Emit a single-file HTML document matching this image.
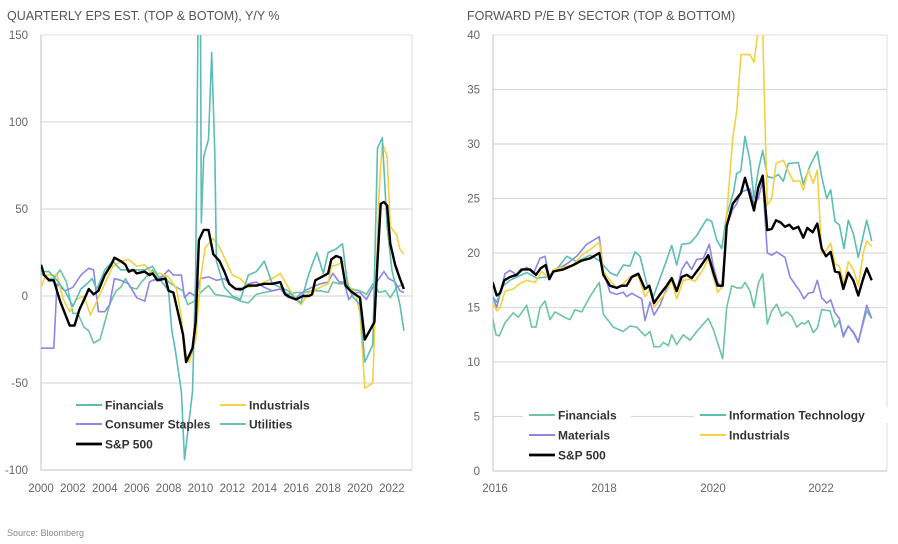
<!DOCTYPE html>
<html><head><meta charset="utf-8"><style>
body{margin:0;background:#fff;}
svg{display:block;font-family:"Liberation Sans",sans-serif;}
</style></head><body>
<svg id="s" width="898" height="544" xmlns="http://www.w3.org/2000/svg">
<defs>
<clipPath id="cl"><rect x="41" y="35" width="371" height="435"/></clipPath>
<clipPath id="cr"><rect x="493" y="35" width="394" height="436"/></clipPath>
</defs>
<text x="7" y="20" font-size="12.5" fill="#555">QUARTERLY EPS EST. (TOP &amp; BOTOM), Y/Y %</text>
<text x="467" y="20" font-size="12.5" fill="#555">FORWARD P/E BY SECTOR (TOP &amp; BOTTOM)</text>
<text x="7" y="536" font-size="9" fill="#888">Source: Bloomberg</text>
<g id="g"></g>
</svg>
<script>
const g=document.getElementById('g');let h='';
function line(x1,y1,x2,y2,c,w){h+=`<line x1="${x1}" y1="${y1}" x2="${x2}" y2="${y2}" stroke="${c}" stroke-width="${w}"/>`;}
function txt(x,y,t,a,s,c,b){h+=`<text x="${x}" y="${y}" font-size="${s}" fill="${c}" text-anchor="${a}" ${b?'font-weight="bold"':''}>${t}</text>`;}
[[150,35],[100,122],[50,209],[0,296],[-50,383],[-100,470]].forEach(([v,y])=>{ if(v!=150&&v!=-100)line(41,y,412,y,'#d9d9d9',1.2); txt(28,y+4,v,'end',11.5,'#666');});
line(41,35,412,35,'#ddd',1);line(412,35,412,470,'#ddd',1);line(41,470,412,470,'#ccc',1.2);line(41,35,41,470,'#ccc',1.2);
for(let yr=2000;yr<=2022;yr+=2){txt(41+(yr-2000)*15.95,492,yr,'middle',11.5,'#666');}
for(let v=0;v<=40;v+=5){const y=471-v*10.9; if(v>0&&v<40)line(493,y,887,y,'#d9d9d9',1.2); txt(480,y+4,v,'end',11.5,'#666');}
line(493,35,887,35,'#ddd',1);line(887,35,887,471,'#ddd',1);line(493,471,887,471,'#ccc',1.2);line(493,35,493,471,'#ccc',1.2);
[[2016,493],[2018,602],[2020,711],[2022,819]].forEach(([t,x])=>txt(x+2,492,t,'middle',11.5,'#666'));
function L(pts,c,w){const p=pts.map(([yr,v])=>`${(41+(yr-2000)*15.95).toFixed(1)},${(296-v*1.74).toFixed(1)}`).join(' ');h+=`<polyline points="${p}" fill="none" stroke="${c}" stroke-width="${w}" stroke-linejoin="round" clip-path="url(#cl)"/>`;}
function R(pts,c,w){const p=pts.map(([zx,v])=>`${(450+zx/3).toFixed(1)},${(471-v*10.9).toFixed(1)}`).join(' ');h+=`<polyline points="${p}" fill="none" stroke="${c}" stroke-width="${w}" stroke-linejoin="round" clip-path="url(#cr)"/>`;}
const TEAL='#5bbdb5',GRN='#6cc4a0',YEL='#f5d142',PUR='#8a87e6';
function leg(x,y,c,w,t,bg){if(bg)h+=`<rect x="${x-6}" y="${y-8}" width="${t.length*7.2+36}" height="16" fill="#fff"/>`;line(x,y,x+26,y,c,w);txt(x+29,y+4.5,t,'start',12,'#333',1);}
// right legend backgrounds drawn before series? reference: legend over gridline only
L([[2000,13],[2000.4,10],[2000.8,10],[2001.2,15],[2001.6,8],[2002,-10],[2002.3,-10],[2002.7,-18],[2003,-20],[2003.3,-27],[2003.7,-25],[2004,-15],[2004.3,-5],[2004.7,3],[2005,5],[2005.3,10],[2005.6,5],[2006,4],[2006.3,8],[2006.7,12],[2007,15],[2007.3,10],[2007.7,12],[2008,8],[2008.5,5],[2008.9,3],[2009.2,-5],[2009.6,-3],[2010,2],[2010.5,6],[2010.9,1],[2011.5,0],[2012,-1],[2012.5,-3],[2013,-4],[2013.5,1],[2014,2],[2014.5,3],[2015,4],[2015.5,1],[2016,2],[2016.5,2],[2017,3],[2017.5,3],[2018,2],[2018.3,8],[2018.7,7],[2019,7],[2019.5,4],[2020,3],[2020.4,1],[2020.8,7],[2021.2,2],[2021.6,3],[2021.9,-1],[2022.3,5],[2022.75,7]],GRN,1.6);
L([[2000,-30],[2000.2,-30],[2000.8,-30],[2001,7],[2001.5,3],[2002,5],[2002.5,12],[2003,16],[2003.3,15],[2003.6,-9],[2004,-9],[2004.3,-5],[2004.6,10],[2005,9],[2005.5,7],[2006,-1],[2006.5,-3],[2006.8,8],[2007,9],[2007.5,10],[2008,15],[2008.3,12],[2008.8,12],[2009,-1],[2009.3,2],[2009.7,0],[2010,10],[2010.5,11],[2011,9],[2011.5,10],[2012,5],[2012.5,3],[2013,7],[2013.5,8],[2014,5],[2014.5,3],[2015,4],[2015.5,-1],[2016,-1],[2016.5,3],[2017,5],[2017.5,7],[2018,8],[2018.3,13],[2018.7,8],[2019,8],[2019.3,-2],[2019.7,2],[2020,2],[2020.4,-2],[2020.8,5],[2021.2,10],[2021.5,14],[2021.8,10],[2022.2,8],[2022.5,3],[2022.75,2]],PUR,1.6);
L([[2000,5],[2000.3,12],[2000.6,12],[2001,12],[2001.4,-2],[2001.8,-9],[2002.2,-2],[2002.7,0],[2003.1,-11],[2003.4,-5],[2004,7],[2004.5,17],[2005,20],[2005.5,21],[2006,17],[2006.5,18],[2007,13],[2007.5,13],[2008,11],[2008.5,4],[2008.8,-12],[2009,-35],[2009.3,-38],[2009.7,-25],[2010,10],[2010.3,28],[2010.8,33],[2011.2,28],[2011.6,20],[2012,12],[2012.5,10],[2013,5],[2013.5,6],[2014,8],[2014.5,10],[2015,13],[2015.5,5],[2016,-2],[2016.3,-5],[2016.8,2],[2017.5,5],[2018,7],[2018.2,17],[2018.6,18],[2019,20],[2019.3,5],[2019.7,2],[2020,-10],[2020.3,-53],[2020.8,-50],[2021.2,60],[2021.4,88],[2021.7,80],[2021.9,40],[2022.3,35],[2022.5,27],[2022.75,24]],YEL,1.6);
L([[2000,14],[2000.5,14],[2001,9],[2001.5,3],[2002,-6],[2002.5,4],[2003,8],[2003.2,10],[2003.5,4],[2004,15],[2004.5,20],[2005,15],[2005.5,15],[2006,15],[2006.5,15],[2007,17],[2007.5,9],[2008,3],[2008.2,-20],[2008.4,-30],[2008.8,-55],[2009,-94],[2009.5,-55],[2009.7,15],[2009.85,160],[2010,160],[2010.05,42],[2010.2,80],[2010.5,90],[2010.7,140],[2010.9,80],[2011,20],[2011.5,5],[2012,0],[2012.5,-2],[2013,12],[2013.5,14],[2014,20],[2014.5,7],[2015,5],[2015.5,3],[2016,-2],[2016.3,-4],[2016.7,10],[2017,18],[2017.3,25],[2017.7,13],[2018,25],[2018.5,27],[2018.9,30],[2019.2,8],[2019.5,0],[2020,-5],[2020.3,-38],[2020.8,-28],[2021.1,85],[2021.4,91],[2021.7,40],[2022,15],[2022.5,-5],[2022.75,-20]],TEAL,1.6);
L([[2000,18],[2000.2,12],[2000.5,9],[2000.8,9],[2001.2,-3],[2001.5,-10],[2001.8,-17],[2002.1,-17],[2002.4,-8],[2002.7,-2],[2003,4],[2003.3,1],[2003.6,3],[2004,12],[2004.4,18],[2004.6,22],[2005,20],[2005.3,18],[2005.5,14],[2005.8,15],[2006,13],[2006.5,14],[2006.8,12],[2007,13],[2007.3,9],[2007.8,10],[2008,3],[2008.3,2],[2008.6,-10],[2008.9,-22],[2009.1,-38],[2009.5,-30],[2009.7,-15],[2009.9,32],[2010.2,38],[2010.5,38],[2010.8,24],[2011.2,20],[2011.5,14],[2011.8,7],[2012.2,4],[2012.6,4],[2013,6],[2013.5,6],[2014,7],[2014.5,7],[2015,8],[2015.3,1],[2015.7,-1],[2016,-2],[2016.4,0],[2016.8,0],[2017,1],[2017.2,9],[2017.6,11],[2018,13],[2018.2,21],[2018.5,23],[2018.8,22],[2019.1,6],[2019.4,3],[2019.7,1],[2020,-1],[2020.3,-25],[2020.6,-20],[2020.9,-15],[2021.1,20],[2021.3,53],[2021.5,54],[2021.7,52],[2021.9,30],[2022.2,18],[2022.5,10],[2022.75,4]],'#000',2.4);
R([[128,14],[138,12.5],[148,12.4],[165,13.6],[190,14.5],[205,14.1],[230,15.2],[245,13.2],[258,13.2],[270,15.0],[285,15.6],[300,13.9],[315,14.6],[350,14.0],[360,13.9],[375,14.8],[395,14.6],[420,16.0],[448,17.3],[460,14.4],[490,13.2],[520,12.8],[540,13.3],[560,13.2],[585,12.4],[600,12.8],[612,11.4],[630,11.4],[640,11.8],[655,11.5],[665,12.5],[680,11.6],[700,12.5],[720,12.0],[740,12.8],[775,14.0],[790,13.0],[818,10.3],[830,15.0],[845,17.0],[860,16.8],[875,16.8],[885,17.3],[900,16.5],[912,15.0],[925,17.2],[938,18.1],[952,13.5],[965,14.7],[980,15.3],[995,14.2],[1010,14.6],[1025,14.2],[1040,13.2],[1055,13.6],[1065,13.5],[1075,13.8],[1090,12.7],[1102,13.1],[1115,14.8],[1140,14.7],[1155,13.2],[1168,13.8],[1180,12.5],[1195,13.3],[1210,12.8],[1225,11.9],[1250,14.7],[1265,14.0]],GRN,1.6);
R([[128,16],[140,15],[165,18.1],[180,18.4],[200,18.0],[230,18.7],[250,18.1],[270,19.5],[285,19.7],[298,17.8],[320,18.5],[350,19.0],[380,19.7],[410,20.8],[448,21.5],[460,18.3],[480,16.4],[500,16.2],[520,16.4],[530,16.0],[545,16.3],[575,15.8],[585,13.8],[600,15.5],[612,14.3],[630,15.2],[650,16.8],[665,17.5],[680,16.5],[695,18.5],[710,19.2],[725,18.5],[740,19.4],[760,19.5],[778,20.8],[790,18.8],[803,17.3],[815,16.8],[830,22.4],[848,24.0],[860,24.5],[873,25.6],[900,25.9],[912,24.5],[925,25.0],[938,26.6],[952,20.0],[965,19.8],[980,20.1],[1005,19.6],[1020,17.8],[1040,16.9],[1048,16.6],[1062,15.8],[1075,16.3],[1090,16.4],[1102,17.5],[1115,15.9],[1130,15.4],[1142,15.7],[1155,14.5],[1168,14.0],[1180,12.3],[1195,13.3],[1210,12.7],[1225,11.8],[1250,15.2],[1265,14.0]],PUR,1.6);
R([[128,16],[140,15.5],[160,17],[180,17.5],[200,17.8],[230,18.2],[260,17.7],[290,17.8],[320,18.5],[350,19.7],[380,19.2],[420,19.8],[448,19.3],[480,18.2],[500,17.9],[520,18.9],[540,18.8],[555,20.1],[570,19.7],[590,17.2],[610,16.0],[640,18.5],[665,20.7],[680,18.9],[695,20.8],[720,20.9],[740,21.6],[770,23.1],[785,22.9],[800,21.2],[815,20.4],[830,23.5],[850,25.5],[860,27.3],[872,27.5],[885,30.7],[900,28.4],[912,25.0],[925,27.6],[938,29.4],[952,27.0],[970,26.9],[985,27.2],[1000,26.6],[1015,28.2],[1045,28.3],[1060,26.3],[1080,28.0],[1102,29.3],[1115,27.0],[1130,25.0],[1142,25.8],[1155,22.9],[1168,22.6],[1182,20.4],[1195,23.0],[1210,21.8],[1225,19.6],[1250,23.0],[1265,21.1]],TEAL,1.6);
R([[128,15.5],[140,14.7],[150,15.0],[165,16.5],[190,16.7],[210,17.2],[230,17.5],[255,17.3],[275,18.3],[298,17.7],[310,18.5],[340,18.7],[370,18.9],[395,19.8],[420,20.3],[448,21.0],[460,18.3],[480,17.5],[500,16.8],[520,17.2],[540,17.8],[565,17.9],[585,16.0],[600,16.7],[612,15.0],[630,15.7],[650,16.5],[665,17.5],[680,15.8],[700,17.5],[720,17.6],[735,17.4],[760,18.5],[775,19.5],[790,17.8],[803,16.4],[818,17.0],[830,23.5],[848,30.5],[860,33.0],[873,38.2],[900,38.2],[912,37.5],[925,40.5],[938,40.5],[945,32],[952,24.4],[965,25.0],[978,28.2],[1000,28.5],[1015,27.5],[1030,26.6],[1050,26.6],[1060,25.8],[1075,27.6],[1090,26.4],[1102,27.6],[1115,20.0],[1128,20.2],[1142,20.9],[1155,19.0],[1168,18.8],[1182,17.2],[1195,19.2],[1210,18.5],[1225,17.0],[1240,20.0],[1250,21.1],[1265,20.6]],YEL,1.6);
R([[128,17.3],[140,16.1],[150,16.3],[163,17.5],[180,17.8],[200,18.0],[215,18.5],[240,18.5],[258,18.0],[272,18.6],[287,18.9],[298,17.6],[310,18.3],[340,18.5],[370,18.9],[395,19.3],[420,19.5],[448,20.0],[460,18.0],[480,17.0],[500,16.8],[515,17.0],[530,17.0],[545,17.8],[565,18.1],[585,16.7],[598,17.0],[612,15.4],[630,16.2],[650,17.0],[665,17.7],[680,16.5],[695,17.8],[710,18.0],[725,17.7],[745,18.5],[775,19.8],[790,18.2],[803,17.0],[818,17.0],[830,22.5],[848,24.5],[860,25.0],[873,25.5],[885,26.9],[898,25.5],[912,23.9],[925,26.0],[938,27.1],[952,22.1],[965,22.2],[978,23.0],[992,22.8],[1005,22.4],[1018,22.6],[1030,22.2],[1045,22.4],[1060,21.4],[1072,22.3],[1088,21.9],[1102,22.7],[1115,20.4],[1128,19.7],[1142,20.1],[1155,18.3],[1168,18.2],[1180,16.7],[1195,18.2],[1210,17.5],[1225,16.1],[1238,17.5],[1250,18.6],[1265,17.5]],'#000',2.4);
leg(76,405,TEAL,2,'Financials');leg(220,405,YEL,2,'Industrials');
leg(76,424,PUR,2,'Consumer Staples');leg(220,424,GRN,2,'Utilities');
leg(76,444,'#000',2.8,'S&amp;P 500');
leg(529,415,GRN,2,'Financials',1);leg(700,415,TEAL,2,'Information Technology',1);
leg(529,435,PUR,2,'Materials',1);leg(700,435,YEL,2,'Industrials',1);
leg(529,455,'#000',2.8,'S&amp;P 500',1);
g.innerHTML=h;
</script>
</body></html>
